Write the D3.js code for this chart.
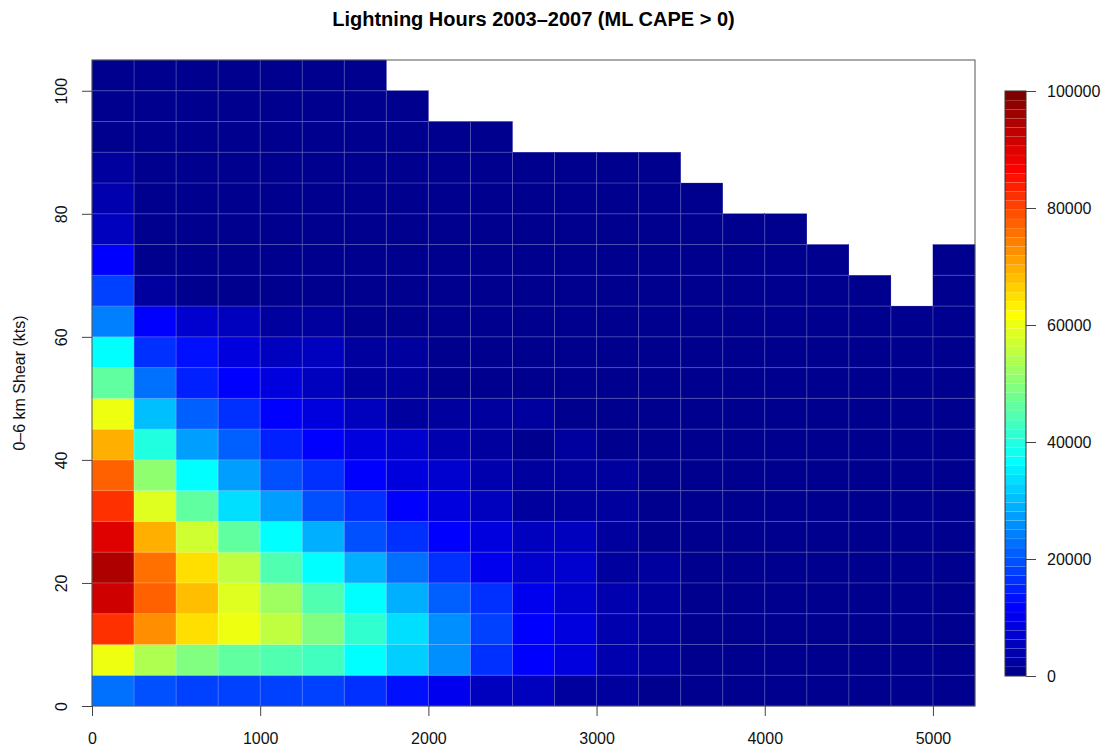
<!DOCTYPE html>
<html>
<head>
<meta charset="utf-8">
<script src="https://cdn.jsdelivr.net/npm/d3@7/dist/d3.min.js"></script>
<style>
  body { margin: 0; background: #fff; }
  text { font-family: "Liberation Sans", Arial, Helvetica, sans-serif; }
</style>
</head>
<body>
<div id="chart"></div>
<script>

// bin starts (ML CAPE, J/kg) and (0-6 km shear, kts)
var capeBins = [0, 250, 500, 750, 1000, 1250, 1500, 1750, 2000, 2250, 2500,
                2750, 3000, 3250, 3500, 3750, 4000, 4250, 4500, 4750, 5000];
var shearBins = [0, 5, 10, 15, 20, 25, 30, 35, 40, 45, 50,
                 55, 60, 65, 70, 75, 80, 85, 90, 95, 100];
var capeStep = 250, shearStep = 5;

// lightning hours, one array per shear bin (null = no data)
var s000 = [23400, 20000, 18700, 18400, 18000, 17200, 16400, 13200, 10000, 5500, 4700, 2300, 3100, 1500, 1300, 1100, 900, 800, 700, 600, 500];
var s005 = [60000, 54000, 49200, 46100, 44500, 42200, 36700, 31300, 25000, 16700, 11700, 8400, 4500, 2400, 1500, 1400, 1000, 900, 800, 700, 600];
var s010 = [82000, 73400, 65500, 59400, 55500, 48500, 41400, 33700, 25800, 18000, 11700, 7900, 4500, 2400, 1400, 1300, 1000, 900, 800, 700, 600];
var s015 = [91700, 78100, 68700, 59200, 52400, 45300, 36700, 29000, 21100, 16400, 9400, 6700, 4000, 2200, 1400, 1200, 1000, 900, 800, 700, 600];
var s020 = [95000, 75700, 65000, 55500, 45000, 36700, 29000, 22700, 16400, 10000, 7400, 6300, 3100, 1900, 1300, 1100, 1000, 900, 800, 700, 600];
var s025 = [90000, 69500, 56700, 46700, 36700, 28400, 20000, 16400, 11700, 8400, 6000, 4700, 2400, 1500, 1200, 1000, 900, 800, 700, 600, 500];
var s030 = [82800, 58600, 46100, 33700, 27000, 20000, 16400, 11700, 8400, 5500, 3100, 3100, 1900, 1200, 1100, 1000, 900, 800, 700, 600, 500];
var s035 = [77300, 50000, 36700, 26600, 20300, 16400, 11700, 8800, 6700, 4500, 2800, 2300, 2800, 1400, 1100, 1000, 900, 800, 700, 600, 500];
var s040 = [70000, 40600, 26600, 21100, 14800, 11700, 8800, 6700, 4000, 3100, 1500, 2200, 1000, 900, 800, 700, 700, 600, 500, 400, 400];
var s045 = [59400, 30500, 21100, 16400, 11700, 8400, 5500, 3100, 2400, 2800, 1900, 1000, 900, 800, 700, 600, 600, 500, 400, 400, 300];
var s050 = [46700, 22700, 15600, 11700, 8400, 5500, 3100, 1900, 1300, 1500, 1200, 900, 800, 700, 600, 500, 500, 400, 400, 300, 300];
var s055 = [36700, 16400, 13100, 8400, 6000, 5500, 3100, 3100, 1000, 900, 900, 800, 700, 600, 500, 500, 400, 400, 300, 300, 300];
var s060 = [24200, 11700, 6700, 5000, 3100, 3100, 1400, 1000, 900, 800, 700, 600, 500, 400, 400, 300, 300, 200, 200, 200, 200];
var s065 = [18000, 3000, 1400, 1200, 1000, 900, 800, 700, 600, 500, 500, 400, 400, 300, 300, 300, 200, 200, 200, null, 200];
var s070 = [11000, 1500, 1000, 900, 800, 700, 600, 500, 500, 400, 400, 300, 300, 300, 200, 200, 200, 200, null, null, 200];
var s075 = [5500, 900, 700, 600, 500, 500, 400, 400, 300, 300, 300, 200, 200, 200, 200, 100, 100, null, null, null, null];
var s080 = [3500, 800, 600, 500, 400, 400, 300, 300, 300, 200, 200, 200, 100, 100, 100, null, null, null, null, null, null];
var s085 = [1800, 600, 500, 400, 400, 300, 300, 200, 200, 200, 200, 100, 100, 100, null, null, null, null, null, null, null];
var s090 = [1000, 400, 300, 300, 200, 200, 200, 100, 100, 100, null, null, null, null, null, null, null, null, null, null, null];
var s095 = [500, 300, 200, 200, 100, 100, 100, 100, null, null, null, null, null, null, null, null, null, null, null, null, null];
var s100 = [300, 200, 100, 100, 100, 100, 100, null, null, null, null, null, null, null, null, null, null, null, null, null, null];

var hours = [s000, s005, s010, s015, s020, s025, s030, s035, s040, s045, s050,
             s055, s060, s065, s070, s075, s080, s085, s090, s095, s100];

var capeTicks = [0, 1000, 2000, 3000, 4000, 5000];
var shearTicks = [0, 20, 40, 60, 80, 100];
var legendTicks = [0, 20000, 40000, 60000, 80000, 100000];
var legendMax = 100000;

var W = 1111, H = 749;
var plot = {left: 92, right: 975, top: 60, bottom: 706};

var svg = d3.select("#chart")
  .append("svg")
    .attr("width", W)
    .attr("height", H);

var x = d3.scaleLinear()
  .domain([0, 5250])
  .range([plot.left, plot.right]);

var y = d3.scaleLinear()
  .domain([0, 105])
  .range([plot.bottom, plot.top]);

// matlab style jet, 64 levels
function jet(t) {
  var c = function(v) { return Math.round(255 * Math.max(0, Math.min(1, v))); };
  return d3.rgb(c(1.5 - Math.abs(4 * t - 3)), c(1.5 - Math.abs(4 * t - 2)), c(1.5 - Math.abs(4 * t - 1))).formatHex();
}
var nColors = 64;
var color = d3.scaleQuantize()
  .domain([0, legendMax])
  .range(d3.range(nColors).map(function(k) { return jet((k + 1) / nColors); }));

// cells
var cells = [];
hours.forEach(function(row, i) {
  row.forEach(function(v, j) {
    if (v != null) cells.push({cape: capeBins[j], shear: shearBins[i], value: v});
  });
});

svg.append("g")
  .selectAll("rect")
  .data(cells)
  .enter()
  .append("rect")
    .attr("x", function(d) { return x(d.cape); })
    .attr("y", function(d) { return y(d.shear + shearStep); })
    .attr("width", function(d) { return x(d.cape + capeStep) - x(d.cape); })
    .attr("height", function(d) { return y(d.shear) - y(d.shear + shearStep); })
    .attr("fill", function(d) { return color(d.value); })
    .attr("stroke", function(d) { return color(d.value); })
    .attr("stroke-width", 0.3);

// faint seams between neighbouring cells
var edges = [];
hours.forEach(function(row, i) {
  row.forEach(function(v, j) {
    if (v == null) return;
    if (j + 1 < row.length && row[j + 1] != null)
      edges.push({x1: capeBins[j] + capeStep, x2: capeBins[j] + capeStep, y1: shearBins[i], y2: shearBins[i] + shearStep});
    if (i + 1 < hours.length && hours[i + 1][j] != null)
      edges.push({x1: capeBins[j], x2: capeBins[j] + capeStep, y1: shearBins[i] + shearStep, y2: shearBins[i] + shearStep});
  });
});

svg.append("g")
  .selectAll("line")
  .data(edges)
  .enter()
  .append("line")
    .attr("x1", function(d) { return x(d.x1); })
    .attr("x2", function(d) { return x(d.x2); })
    .attr("y1", function(d) { return y(d.y1); })
    .attr("y2", function(d) { return y(d.y2); })
    .attr("stroke", "rgba(255,255,255,0.22)")
    .attr("stroke-width", 1);

// box
svg.append("rect")
  .attr("x", plot.left)
  .attr("y", plot.top)
  .attr("width", plot.right - plot.left)
  .attr("height", plot.bottom - plot.top)
  .attr("fill", "none")
  .attr("stroke", "#555")
  .attr("stroke-width", 1);

// axes
var xAxis = svg.append("g")
  .attr("transform", "translate(0," + plot.bottom + ")")
  .call(d3.axisBottom(x).tickValues(capeTicks).tickSize(10).tickPadding(17).tickFormat(d3.format("d")));

var yAxis = svg.append("g")
  .attr("transform", "translate(" + plot.left + ",0)")
  .call(d3.axisLeft(y).tickValues(shearTicks).tickSize(10).tickFormat(d3.format("d")));

[xAxis, yAxis].forEach(function(a) {
  a.select(".domain").remove();
  a.selectAll(".tick line").attr("stroke", "#444");
  a.selectAll(".tick text")
    .attr("fill", "#111")
    .style("font-size", "16px")
    .style("font-family", "'Liberation Sans', Arial, sans-serif");
});

yAxis.selectAll(".tick text")
  .attr("x", null)
  .attr("dy", null)
  .attr("text-anchor", "middle")
  .attr("transform", "translate(-25,0) rotate(-90)");

// titles
svg.append("text")
  .attr("x", (plot.left + plot.right) / 2)
  .attr("y", 26)
  .attr("text-anchor", "middle")
  .style("font-size", "20px")
  .style("font-weight", "bold")
  .text("Lightning Hours 2003–2007 (ML CAPE > 0)");

svg.append("text")
  .attr("transform", "translate(25," + ((plot.top + plot.bottom) / 2) + ") rotate(-90)")
  .attr("text-anchor", "middle")
  .style("font-size", "16px")
  .attr("fill", "#111")
  .text("0–6 km Shear (kts)");

// colour bar
var bar = {left: 1005, width: 21, top: 91, bottom: 676};
var ly = d3.scaleLinear()
  .domain([0, legendMax])
  .range([bar.bottom, bar.top]);

var bands = d3.range(nColors).map(function(k) {
  return {lo: k * legendMax / nColors, hi: (k + 1) * legendMax / nColors};
});

svg.append("g")
  .selectAll("rect")
  .data(bands)
  .enter()
  .append("rect")
    .attr("x", bar.left)
    .attr("width", bar.width)
    .attr("y", function(d) { return ly(d.hi); })
    .attr("height", function(d) { return ly(d.lo) - ly(d.hi); })
    .attr("fill", function(d) { return color((d.lo + d.hi) / 2); })
    .attr("stroke", "rgba(255,255,255,0.12)")
    .attr("stroke-width", 0.5);

svg.append("rect")
  .attr("x", bar.left)
  .attr("y", bar.top)
  .attr("width", bar.width)
  .attr("height", bar.bottom - bar.top)
  .attr("fill", "none")
  .attr("stroke", "#333");

var lAxis = svg.append("g")
  .attr("transform", "translate(" + (bar.left + bar.width) + ",0)")
  .call(d3.axisRight(ly).tickValues(legendTicks).tickSize(10).tickPadding(11).tickFormat(d3.format("d")));

lAxis.select(".domain").remove();
lAxis.selectAll(".tick line").attr("stroke", "#444");
lAxis.selectAll(".tick text")
  .attr("fill", "#111")
  .style("font-size", "16px")
  .style("font-family", "'Liberation Sans', Arial, sans-serif");

</script>
</body>
</html>
